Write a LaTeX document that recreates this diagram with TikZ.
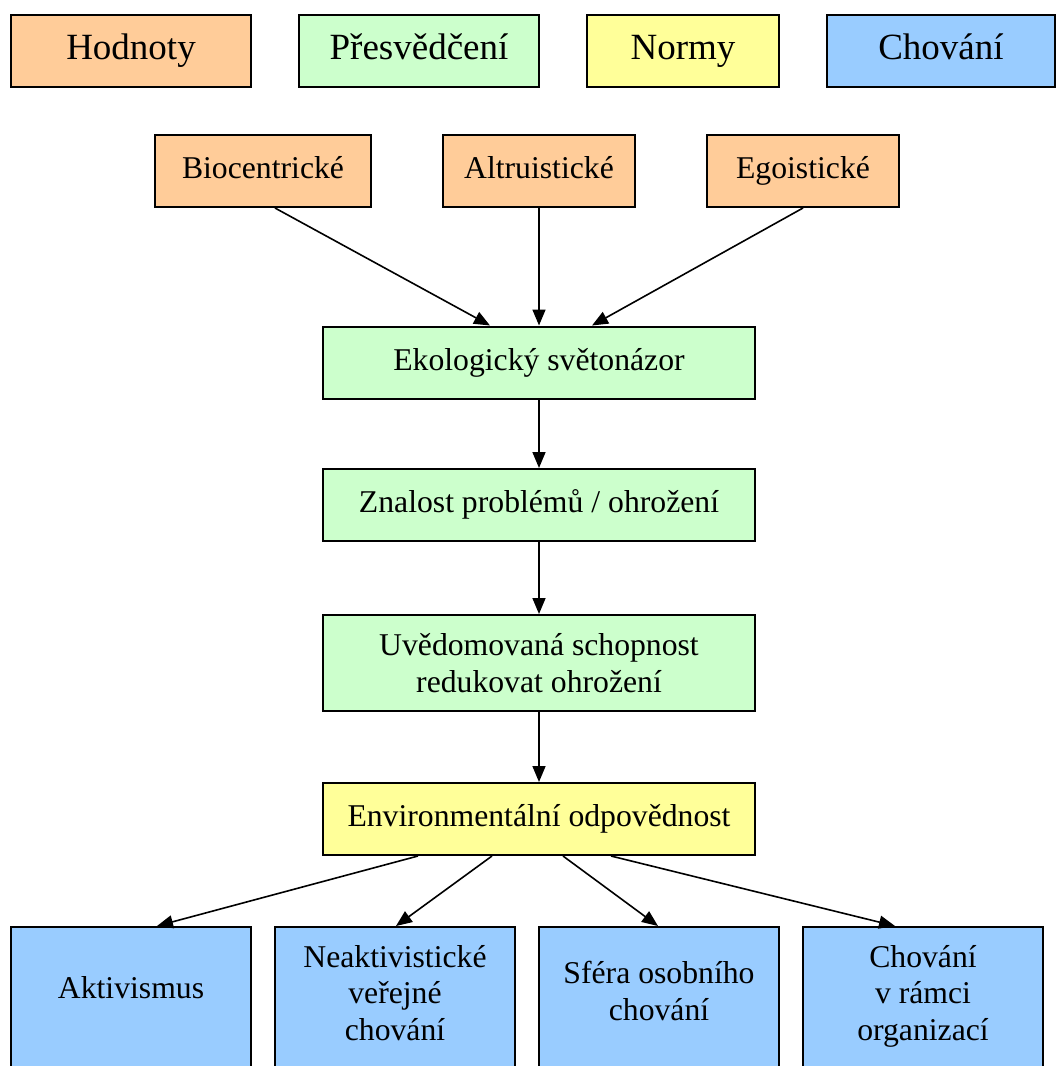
\documentclass[tikz,border=0pt]{standalone}
\usepackage{fontspec}
\setmainfont{Liberation Serif}
\usetikzlibrary{arrows.meta}
\definecolor{valcol}{HTML}{FFCC99}
\definecolor{belcol}{HTML}{CCFFCC}
\definecolor{normcol}{HTML}{FFFF99}
\definecolor{behcol}{HTML}{99CCFF}
\begin{document}
\begin{tikzpicture}[x=1pt,y=-1pt,
  box/.style={draw=black, line width=2pt, inner sep=0pt, rectangle},
  legendtxt/.style={font=\fontsize{37}{43}\selectfont, text height=25.5, text depth=8},
  txt/.style={font=\fontsize{31.7}{36.5}\selectfont, align=center, inner sep=0pt},
  oneline/.style={text height=22, text depth=7},
  conn/.style={line width=1.6pt, -{Triangle[length=16pt,width=13pt]}}]
\useasboundingbox (0,0) rectangle (1056,1066);

% legend row
\node[box, fill=valcol, minimum width=240, minimum height=72, legendtxt] (lval) at (131,51) {Hodnoty};
\node[box, fill=belcol, minimum width=240, minimum height=72, legendtxt] (lbel) at (419,51) {Přesvědčení};
\node[box, fill=normcol, minimum width=192, minimum height=72, legendtxt] (lnorm) at (683,51) {Normy};
\node[box, fill=behcol, minimum width=228, minimum height=72, legendtxt] (lbeh) at (941,51) {Chování};

% value orientations
\node[box, fill=valcol, minimum width=216, minimum height=72, txt, oneline] (bio) at (263,171) {Biocentrické};
\node[box, fill=valcol, minimum width=192, minimum height=72, txt, oneline] (alt) at (539,171) {Altruistické};
\node[box, fill=valcol, minimum width=192, minimum height=72, txt, oneline] (ego) at (803,171) {Egoistické};

% chain of beliefs and the norm
\node[box, fill=belcol, minimum width=432, minimum height=72, txt, oneline] (eko) at (539,362.5) {Ekologický světonázor};
\node[box, fill=belcol, minimum width=432, minimum height=72, txt, oneline] (zna) at (539,505) {Znalost problémů / ohrožení};
\node[box, fill=belcol, minimum width=432, minimum height=96, txt] (uve) at (539,663) {Uvědomovaná schopnost\\redukovat ohrožení};
\node[box, fill=normcol, minimum width=432, minimum height=72, txt, oneline] (env) at (539,819) {Environmentální odpovědnost};

% behaviour boxes (run past the lower edge)
\node[box, fill=behcol, minimum width=240, minimum height=200] (akt) at (131,1027) {};
\node[box, fill=behcol, minimum width=240, minimum height=200] (neak) at (395,1027) {};
\node[box, fill=behcol, minimum width=240, minimum height=200] (sfe) at (659,1027) {};
\node[box, fill=behcol, minimum width=240, minimum height=200] (org) at (923,1027) {};
\node[txt] (aktt) at (131,988) {Aktivismus};
\node[txt] (neakt) at (395,993) {Neaktivistické\\veřejné\\chování};
\node[txt] (sfet) at (659,991) {Sféra osobního\\chování};
\node[txt] (orgt) at (923,996) {Chování\\v rámci\\organizací};

% connectors
\draw[conn] ([xshift=12]bio.south) -- ([xshift=-49]eko.north);
\draw[conn] (alt.south) -- (eko.north);
\draw[conn] (ego.south) -- ([xshift=53]eko.north);
\draw[conn] (eko) -- (zna);
\draw[conn] (zna) -- (uve);
\draw[conn] (uve) -- (env);
\draw[conn] ([xshift=-121]env.south) -- ([xshift=26]akt.north);
\draw[conn] ([xshift=-47]env.south) -- ([xshift=1]neak.north);
\draw[conn] ([xshift=24]env.south) -- ([xshift=-1]sfe.north);
\draw[conn] ([xshift=72]env.south) -- ([xshift=-28]org.north);
\end{tikzpicture}
\end{document}
